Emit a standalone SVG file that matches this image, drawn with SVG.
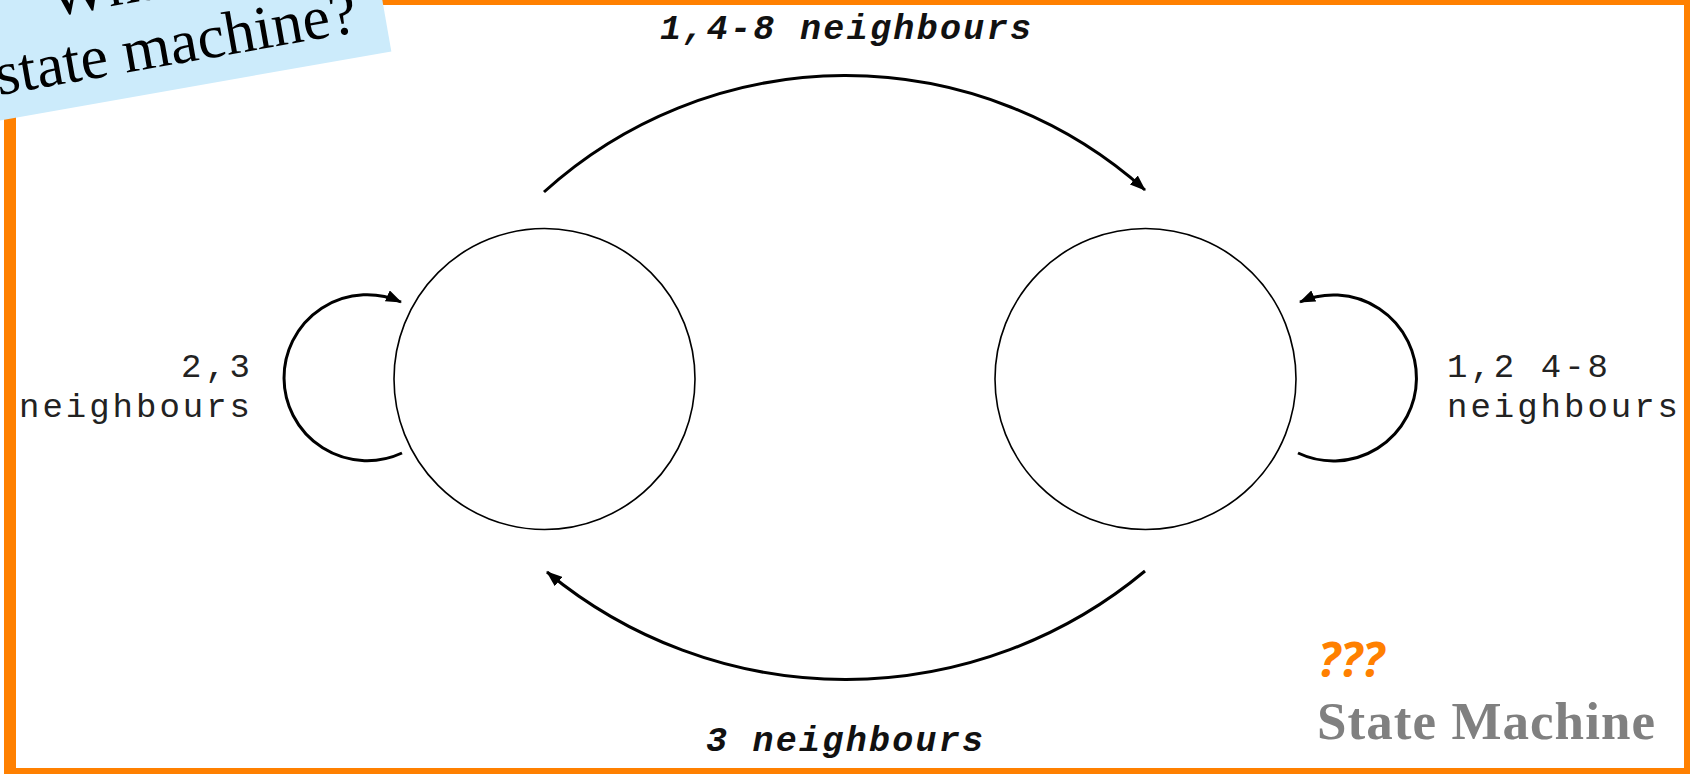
<svg xmlns="http://www.w3.org/2000/svg" width="1690" height="774" viewBox="0 0 1690 774">
<style>
.state{fill:#fff;stroke:#000;stroke-width:1.6}
.edge{fill:none;stroke:#000;stroke-width:3}
.lbl{font-family:"Liberation Mono","Courier New",monospace;font-size:34px;fill:#222}
.lblb{font-family:"Liberation Mono","Courier New",monospace;font-size:35px;font-weight:bold;font-style:italic;fill:#111}
.callout{font-family:"Liberation Serif","Times New Roman",serif;font-size:62px;fill:#000}
</style>
<defs>
<marker id="arr" viewBox="0 0 16 12" refX="15" refY="6" markerWidth="16" markerHeight="12" markerUnits="userSpaceOnUse" orient="auto">
<path d="M0 0 L16 6 L0 12 Z" fill="#000"/>
</marker>
</defs>
<rect width="1690" height="774" fill="#fff"/>
<path d="M4 0 H1690 V774 H4 Z M16 5 V768 H1684 V5 Z" fill="#FF8000" fill-rule="evenodd"/>
<g id="node-left"><circle class="state" cx="544.5" cy="379" r="150.5"/></g>
<g id="node-right"><circle class="state" cx="1145.5" cy="379" r="150.5"/></g>
<g id="connectors">
<path class="edge" d="M544 192 A449 449 0 0 1 1145 190" marker-end="url(#arr)"/>
<path class="edge" d="M1145 571 A468 468 0 0 1 547 572" marker-end="url(#arr)"/>
<path class="edge" d="M402 453 A83 83 0 1 1 401 302" marker-end="url(#arr)"/>
<path class="edge" d="M1298 453 A83 83 0 1 0 1300 302" marker-end="url(#arr)"/>
</g>
<g id="labels">
<text class="lblb" x="660" y="39" textLength="371" lengthAdjust="spacing">1,4-8 neighbours</text>
<text class="lblb" x="706" y="751" textLength="277" lengthAdjust="spacing">3 neighbours</text>
<text class="lbl" x="181" y="377" textLength="69" lengthAdjust="spacing">2,3</text>
<text class="lbl" x="19" y="417" textLength="231" lengthAdjust="spacing">neighbours</text>
<text class="lbl" x="1447" y="377" textLength="161" lengthAdjust="spacing">1,2 4-8</text>
<text class="lbl" x="1447" y="417" textLength="231" lengthAdjust="spacing">neighbours</text>
</g>
<g id="caption">
<text x="1318" y="677" font-family="'Noto Sans','Open Sans',sans-serif" font-size="48" font-weight="bold" font-style="italic" fill="#FF8000">???</text>
<text x="1317" y="739" font-family="'Liberation Serif','Times New Roman',serif" font-size="53" font-weight="bold" fill="#808080" textLength="338" lengthAdjust="spacing">State Machine</text>
</g>
<g id="callout" transform="translate(0,95) rotate(-10)">
<rect x="-140" y="-180" width="533" height="205" fill="#CCEBFB"/>
<text class="callout" x="182" y="-68" text-anchor="middle">What is a</text>
<text class="callout" x="182" y="0" text-anchor="middle">state machine?</text>
</g>
</svg>
